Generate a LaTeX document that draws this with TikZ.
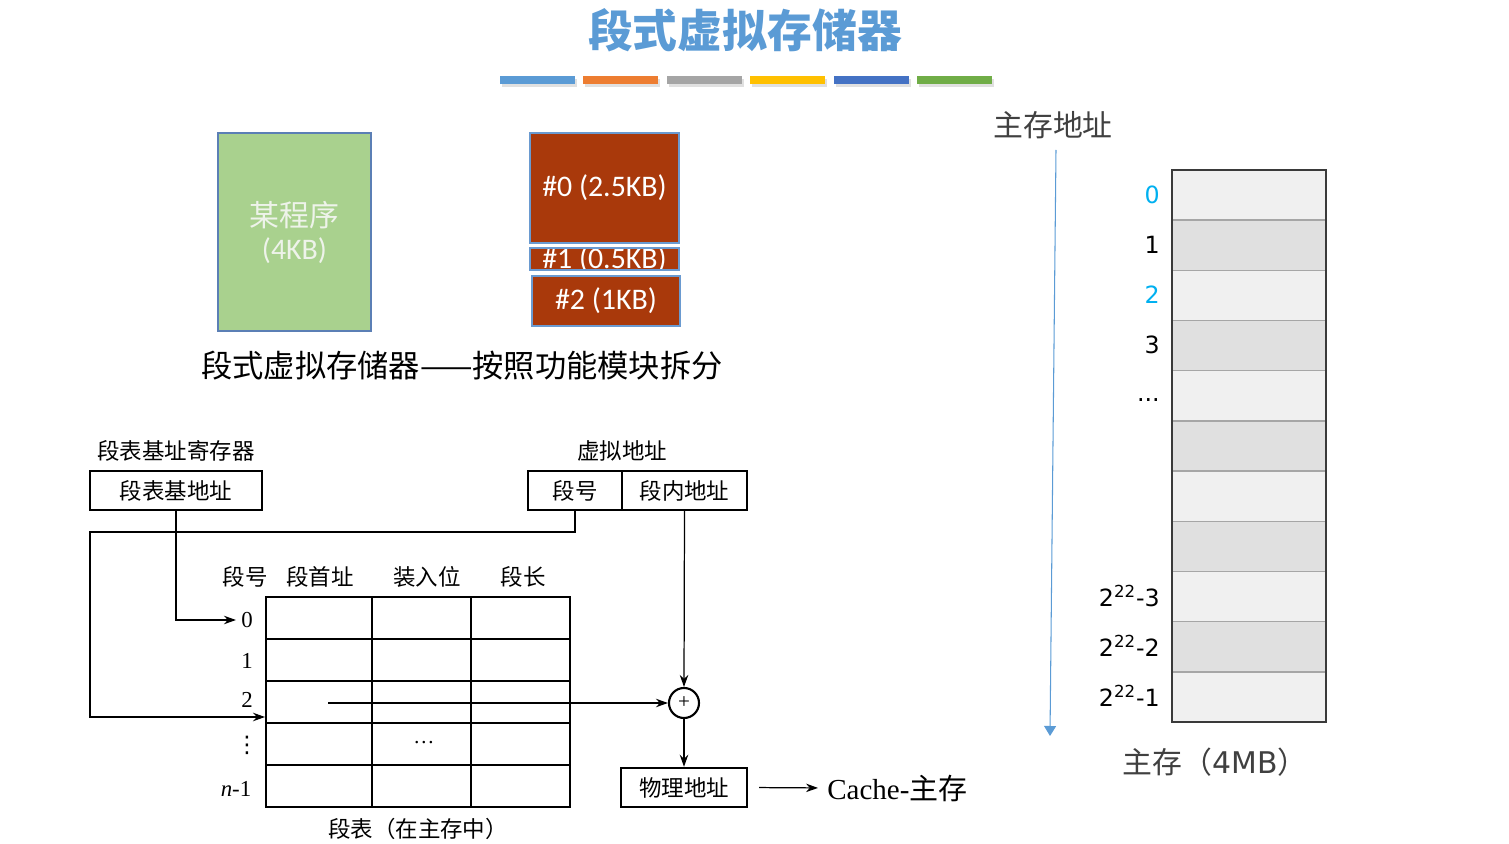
\documentclass[tikz,border=0pt]{standalone}
\usepackage{fontspec}
\setmainfont{Noto Sans CJK SC}
\newfontfamily\calib{Carlito}
\newfontfamily\tms{Liberation Serif}
\newfontfamily\djv{DejaVu Sans}
\usetikzlibrary{arrows.meta}
\newcommand\setsz[1]{\fontsize{#1}{#1}\selectfont}
\definecolor{titleblue}{HTML}{5B9BD5}
\definecolor{barA}{HTML}{5B9BD5}
\definecolor{barB}{HTML}{ED7D31}
\definecolor{barC}{HTML}{A5A5A5}
\definecolor{barD}{HTML}{FFC000}
\definecolor{barE}{HTML}{4472C4}
\definecolor{barF}{HTML}{70AD47}
\definecolor{proggreen}{HTML}{A9D18E}
\definecolor{progline}{HTML}{5B7FB5}
\definecolor{progtext}{HTML}{EEF3EA}
\definecolor{segbrown}{HTML}{A9390B}
\definecolor{segline}{HTML}{6A9AD0}
\definecolor{memlight}{HTML}{F0F0F0}
\definecolor{memdark}{HTML}{E0E0E0}
\definecolor{memsep}{HTML}{A6A6A6}
\definecolor{memedge}{HTML}{3A3A3A}
\definecolor{addrcyan}{HTML}{00B0F0}
\definecolor{darktext}{HTML}{404040}
\begin{document}
\begin{tikzpicture}[x=0.02cm,y=-0.02cm,every node/.style={inner sep=0pt},
  bx/.style={draw,line width=1.4pt,minimum height=39*0.02cm},
  tab/.style={line width=1.4pt},
  arr/.style={-{Stealth[length=2.4mm,width=1.7mm]},line width=0.7pt},
  lbl/.style={font=\setsz{12.8}},
  memlbl/.style={anchor=east,font=\djv\setsz{13.5}}]
\useasboundingbox (0,0) rectangle (1509,844);

% title and colour bars
\node[text=titleblue,font=\setsz{25.5}\bfseries] (title) at (745,30) {段式虚拟存储器};
\foreach \c [count=\i from 0] in {barA,barB,barC,barD,barE,barF}{
  \fill[black!12] (502+\i*83.4,79) rectangle ++(75,8);
  \fill[\c] (500+\i*83.4,76) rectangle ++(75,8);
}

% program and its segments
\draw[fill=proggreen,draw=progline,line width=0.9pt] (218,133) rectangle (371,331);
\node[text=progtext,font=\setsz{17}] (prog) at (294.5,215) {某程序};
\node[text=progtext,font=\calib\setsz{17}] (progsz) at (294.5,251) {(4KB)};
\draw[fill=segbrown,draw=segline,line width=0.9pt] (530,133) rectangle (679,243);
\node[text=white,font=\calib\setsz{17}] (seg0) at (604.5,188) {\#0 (2.5KB)};
\fill[segbrown] (530,248) rectangle (679,270);
\node[text=white,font=\calib\setsz{17}] (seg1) at (604.5,260) {\#1 (0.5KB)};
\draw[draw=segline,line width=0.9pt] (530,248) rectangle (679,270);
\draw[fill=segbrown,draw=segline,line width=0.9pt] (532,276) rectangle (680,326);
\node[text=white,font=\calib\setsz{17}] (seg2) at (606,301) {\#2 (1KB)};
\node[font=\setsz{17.8}] (split) at (462,366) {段式虚拟存储器——按照功能模块拆分};

% segment table translation
\node[lbl] (reglbl) at (176,451) {段表基址寄存器};
\node[bx,lbl,minimum width=172*0.02cm] (base) at (176,490.5) {段表基地址};
\node[lbl] (vlbl) at (622,451) {虚拟地址};
\node[bx,lbl,minimum width=94*0.02cm] (segno) at (575,490.5) {段号};
\node[bx,lbl,minimum width=125*0.02cm] (offs) at (684.5,490.5) {段内地址};
\node[lbl] (h0) at (245,577) {段号};
\node[lbl] (h1) at (320,577) {段首址};
\node[lbl] (h2) at (427,577) {装入位};
\node[lbl] (h3) at (523,577) {段长};
\draw[tab] (266,597) rectangle (570,807);
\foreach \y in {639,681,723,765} \draw[tab] (266,\y) -- (570,\y);
\foreach \x in {372,471} \draw[tab] (\x,597) -- (\x,807);
\node[font=\tms\setsz{13}] (r0) at (247,620) {0};
\node[font=\tms\setsz{13}] (r1) at (247,661) {1};
\node[font=\tms\setsz{13}] (r2) at (247,700) {2};
\node[font=\djv\setsz{13}] (r3) at (247,745) {⋮};
\node[font=\tms\setsz{13}] (r4) at (236,789) {\textit{n}-1};
\node[font=\tms\setsz{12}] (dots) at (424,743) {\dots};
\node[lbl] (tabname) at (418,829) {段表（在主存中）};
\node[draw,circle,line width=1.2pt,minimum size=30*0.02cm,font=\tms\setsz{12}] (plus) at (684,703) {+};
\node[bx,lbl,minimum width=126*0.02cm] (phys) at (684,787.5) {物理地址};
\node[anchor=west,font=\setsz{16.5}] (cache) at (827,788) {{\tms Cache-}主存};
\coordinate (bend) at (90,532);
\coordinate (row2) at (265,717);
\coordinate (start2) at (328,703);
\draw[arr] (base.south) |- ([xshift=-0.1cm]r0.west);
\draw[arr] (segno.south) |- (bend) |- (row2);
\draw[arr] (start2) -- (plus.west);
\draw[arr] (offs.south) -- (plus.north);
\draw[arr] (plus.south) -- (phys.north);
\draw[arr,shorten <=0.22cm,shorten >=0.18cm] (phys.east) -- (cache.west);

% main memory
\node[text=darktext,font=\setsz{17}] (addr) at (1053,125) {主存地址};
\draw[titleblue,line width=0.6pt,-{Triangle[length=2mm,width=2.4mm]}] (1056,150) -- (1050,736);
\foreach \i in {0,...,10}{
  \pgfmathsetmacro\top{170+\i*50.18}
  \ifodd\i \fill[memdark] (1172,\top) rectangle ++(154,50.18);
  \else \fill[memlight] (1172,\top) rectangle ++(154,50.18); \fi
  \draw[memsep,line width=0.8pt] (1172,\top) -- ++(154,0);
}
\draw[memedge,line width=1.2pt] (1172,170) rectangle (1326,722);
\node[memlbl,text=addrcyan] (m0) at (1160,195) {0};
\node[memlbl] (m1) at (1160,245) {1};
\node[memlbl,text=addrcyan] (m2) at (1160,295) {2};
\node[memlbl] (m3) at (1160,345) {3};
\node[memlbl] (m4) at (1160,400) {...};
\node[memlbl] (m8) at (1160,596) {2\textsuperscript{22}-3};
\node[memlbl] (m9) at (1160,646) {2\textsuperscript{22}-2};
\node[memlbl] (m10) at (1160,696) {2\textsuperscript{22}-1};
\node[text=darktext,font=\setsz{17}] (mem) at (1215,762) {主存（{\djv 4MB}）};
\end{tikzpicture}
\end{document}
